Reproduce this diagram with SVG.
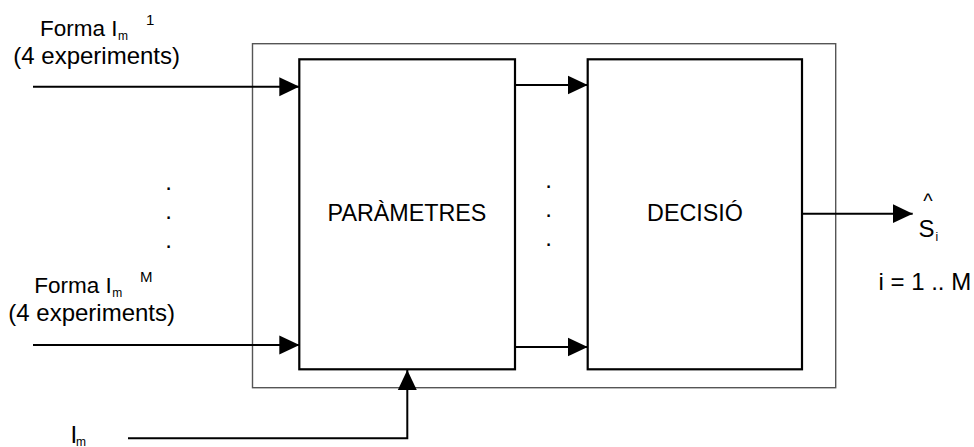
<svg xmlns="http://www.w3.org/2000/svg" width="974" height="447" viewBox="0 0 974 447">
<style>
text{font-family:"Liberation Sans",Arial,sans-serif;fill:#000}
.lbl{font-size:24px}
.lbl1{font-size:22.5px}
.box{font-size:23.3px}
.sub{font-size:12px}
.sup{font-size:15px}
.blk{fill:#fff;stroke:#000;stroke-width:2.2}
.outer{fill:#fff;stroke:#555;stroke-width:1.4}
.wire{fill:none;stroke:#000;stroke-width:2}
</style>
<defs>
<marker id="ah" markerUnits="userSpaceOnUse" markerWidth="20" markerHeight="20" viewBox="0 0 19 18" refX="19" refY="9" orient="auto">
<path d="M0,0 L19,9 L0,18 Z" fill="#000"/>
</marker>
</defs>
<g id="outer-box"><rect class="outer" x="252.5" y="43.7" width="583.2" height="344"/></g>
<g id="parametres"><rect class="blk" x="299.3" y="59.3" width="215.7" height="310"/><text class="box" x="407" y="221" text-anchor="middle">PARÀMETRES</text></g>
<g id="decisio"><rect class="blk" x="587.7" y="59.3" width="214.3" height="310"/><text class="box" x="695" y="221" text-anchor="middle">DECISIÓ</text></g>
<g id="connectors">
<line class="wire" x1="33" y1="86.7" x2="299.3" y2="86.7" marker-end="url(#ah)"/>
<line class="wire" x1="33" y1="345" x2="299.3" y2="345" marker-end="url(#ah)"/>
<line class="wire" x1="515" y1="85" x2="587.7" y2="85" marker-end="url(#ah)"/>
<line class="wire" x1="515" y1="347" x2="587.7" y2="347" marker-end="url(#ah)"/>
<line class="wire" x1="802" y1="213.7" x2="912.7" y2="213.7" marker-end="url(#ah)"/>
<polyline class="wire" points="128,438.3 407.3,438.3 407.3,370" marker-end="url(#ah)"/>
</g>
<g id="input-1">
<text class="lbl1" x="40" y="35.5">Forma I<tspan class="sub" dx="0.5" dy="4">m</tspan><tspan class="sup" x="146" y="24.5">1</tspan></text>
<text class="lbl" x="13.3" y="63.5">(4 experiments)</text>
</g>
<g id="dots-left">
<text class="lbl" x="168.5" y="189.5" text-anchor="middle">.</text>
<text class="lbl" x="168.5" y="218.5" text-anchor="middle">.</text>
<text class="lbl" x="168.5" y="247.8" text-anchor="middle">.</text>
</g>
<g id="input-M">
<text class="lbl1" x="34.3" y="292.7">Forma I<tspan class="sub" dx="0.5" dy="3.8">m</tspan><tspan class="sup" x="140" y="282">M</tspan></text>
<text class="lbl" x="8.3" y="321">(4 experiments)</text>
</g>
<g id="dots-mid">
<text class="lbl" x="548.5" y="188" text-anchor="middle">.</text>
<text class="lbl" x="548.5" y="217" text-anchor="middle">.</text>
<text class="lbl" x="548.5" y="246.2" text-anchor="middle">.</text>
</g>
<g id="output">
<text x="928" y="208" font-size="20" text-anchor="middle">^</text>
<text class="lbl" x="918.5" y="236.7">S<tspan class="sub" x="935.5" y="240.5">i</tspan></text>
<text class="lbl" x="878.5" y="290">i = 1 .. M</text>
</g>
<g id="input-Im">
<text class="lbl" x="70.5" y="443">I<tspan class="sub" x="76" y="445.5">m</tspan></text>
</g>
</svg>
